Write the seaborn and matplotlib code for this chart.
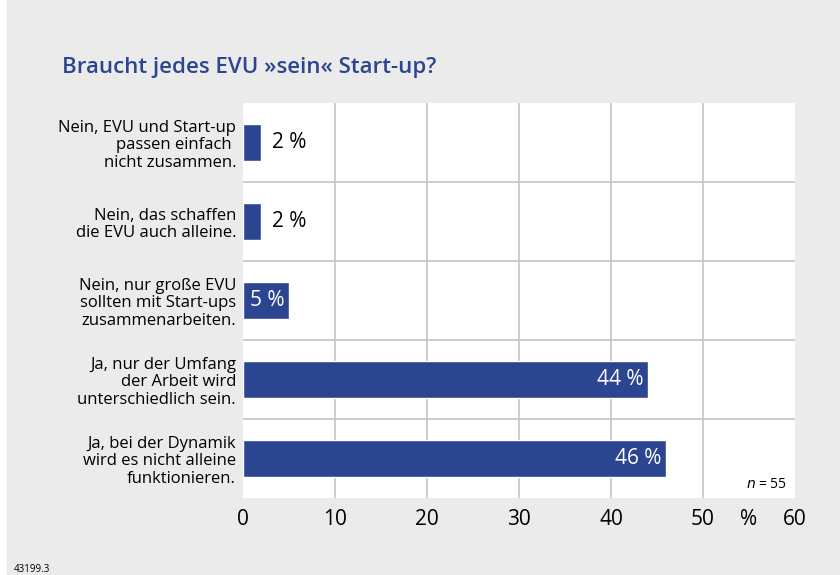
import matplotlib
matplotlib.use("Agg")
import pandas as pd
import seaborn as sns
import matplotlib.pyplot as plt
from matplotlib.patches import Rectangle

categories = [
    "Nein, EVU und Start-up\npassen einfach \nnicht zusammen.",
    "Nein, das schaffen\ndie EVU auch alleine.",
    "Nein, nur große EVU\nsollten mit Start-ups\nzusammenarbeiten.",
    "Ja, nur der Umfang\nder Arbeit wird\nunterschiedlich sein.",
    "Ja, bei der Dynamik\nwird es nicht alleine\nfunktionieren.",
]
values = [2, 2, 5, 44, 46]
xticks = [0, 10, 20, 30, 40, 50, 55, 60]
xtick_labels = ["0", "10", "20", "30", "40", "50", "%", "60"]

df = pd.DataFrame({"Antwort": categories, "Anteil": values})

sns.set_style("white")
plt.rcParams["font.family"] = ["Open Sans", "DejaVu Sans"]
plt.rcParams["text.color"] = "black"
plt.rcParams["xtick.color"] = "black"
plt.rcParams["ytick.color"] = "black"

bar_color = "#2b4590"
bg = "#ebebeb"

fig = plt.figure(figsize=(8.4, 5.75), dpi=100)
fig.patch.set_facecolor("white")
fig.patches.append(Rectangle((7 / 840, 0), 1, 1, transform=fig.transFigure,
                             facecolor=bg, edgecolor="none", zorder=-10))

ax = fig.add_axes([243 / 840, 1 - 498 / 575, (795 - 243) / 840, (498 - 103) / 575])
ax.set_facecolor("white")
sns.barplot(data=df, x="Anteil", y="Antwort", orient="h", color=bar_color,
            width=0.48, saturation=1, ax=ax, zorder=3)

ax.set_xlim(0, 60)
ax.set_ylim(4.5, -0.5)
for x in [10, 20, 30, 40, 50]:
    ax.axvline(x, color="#c4c4c4", lw=1.2, zorder=1)
for y in [0.5, 1.5, 2.5, 3.5]:
    ax.axhline(y, color="#c4c4c4", lw=1.2, zorder=1)
for s in ax.spines.values():
    s.set_visible(False)

ax.set_xticks(xticks)
ax.set_xticklabels(xtick_labels, fontsize=15)
ax.tick_params(axis="x", length=0, pad=8)
ax.set_yticks(range(len(categories)))
ax.set_yticklabels(categories, fontsize=12, linespacing=1.15)
ax.tick_params(axis="y", length=0, pad=5)
ax.set_xlabel("")
ax.set_ylabel("")

for i, v in enumerate(values):
    if v < 5:
        ax.text(v + 1.1, i, f"{v} %", va="center", ha="left", fontsize=15, color="black", zorder=4)
    else:
        ax.text(v - 0.5, i, f"{v} %", va="center", ha="right", fontsize=15, color="white", zorder=4)

ax.text(0.985, 0.015, r"$\it{n}$ = 55", transform=ax.transAxes, ha="right", va="bottom",
        fontsize=10, zorder=4)

fig.text(62 / 840, 1 - 68 / 575, "Braucht jedes EVU »sein« Start-up?", fontsize=16,
         fontweight="semibold", color="#2b4590", va="center", ha="left")
fig.text(14 / 840, 1 - 569 / 575, "43199.3", fontsize=7, va="center", ha="left")

fig.savefig("out.png", dpi=100, facecolor=fig.get_facecolor())
